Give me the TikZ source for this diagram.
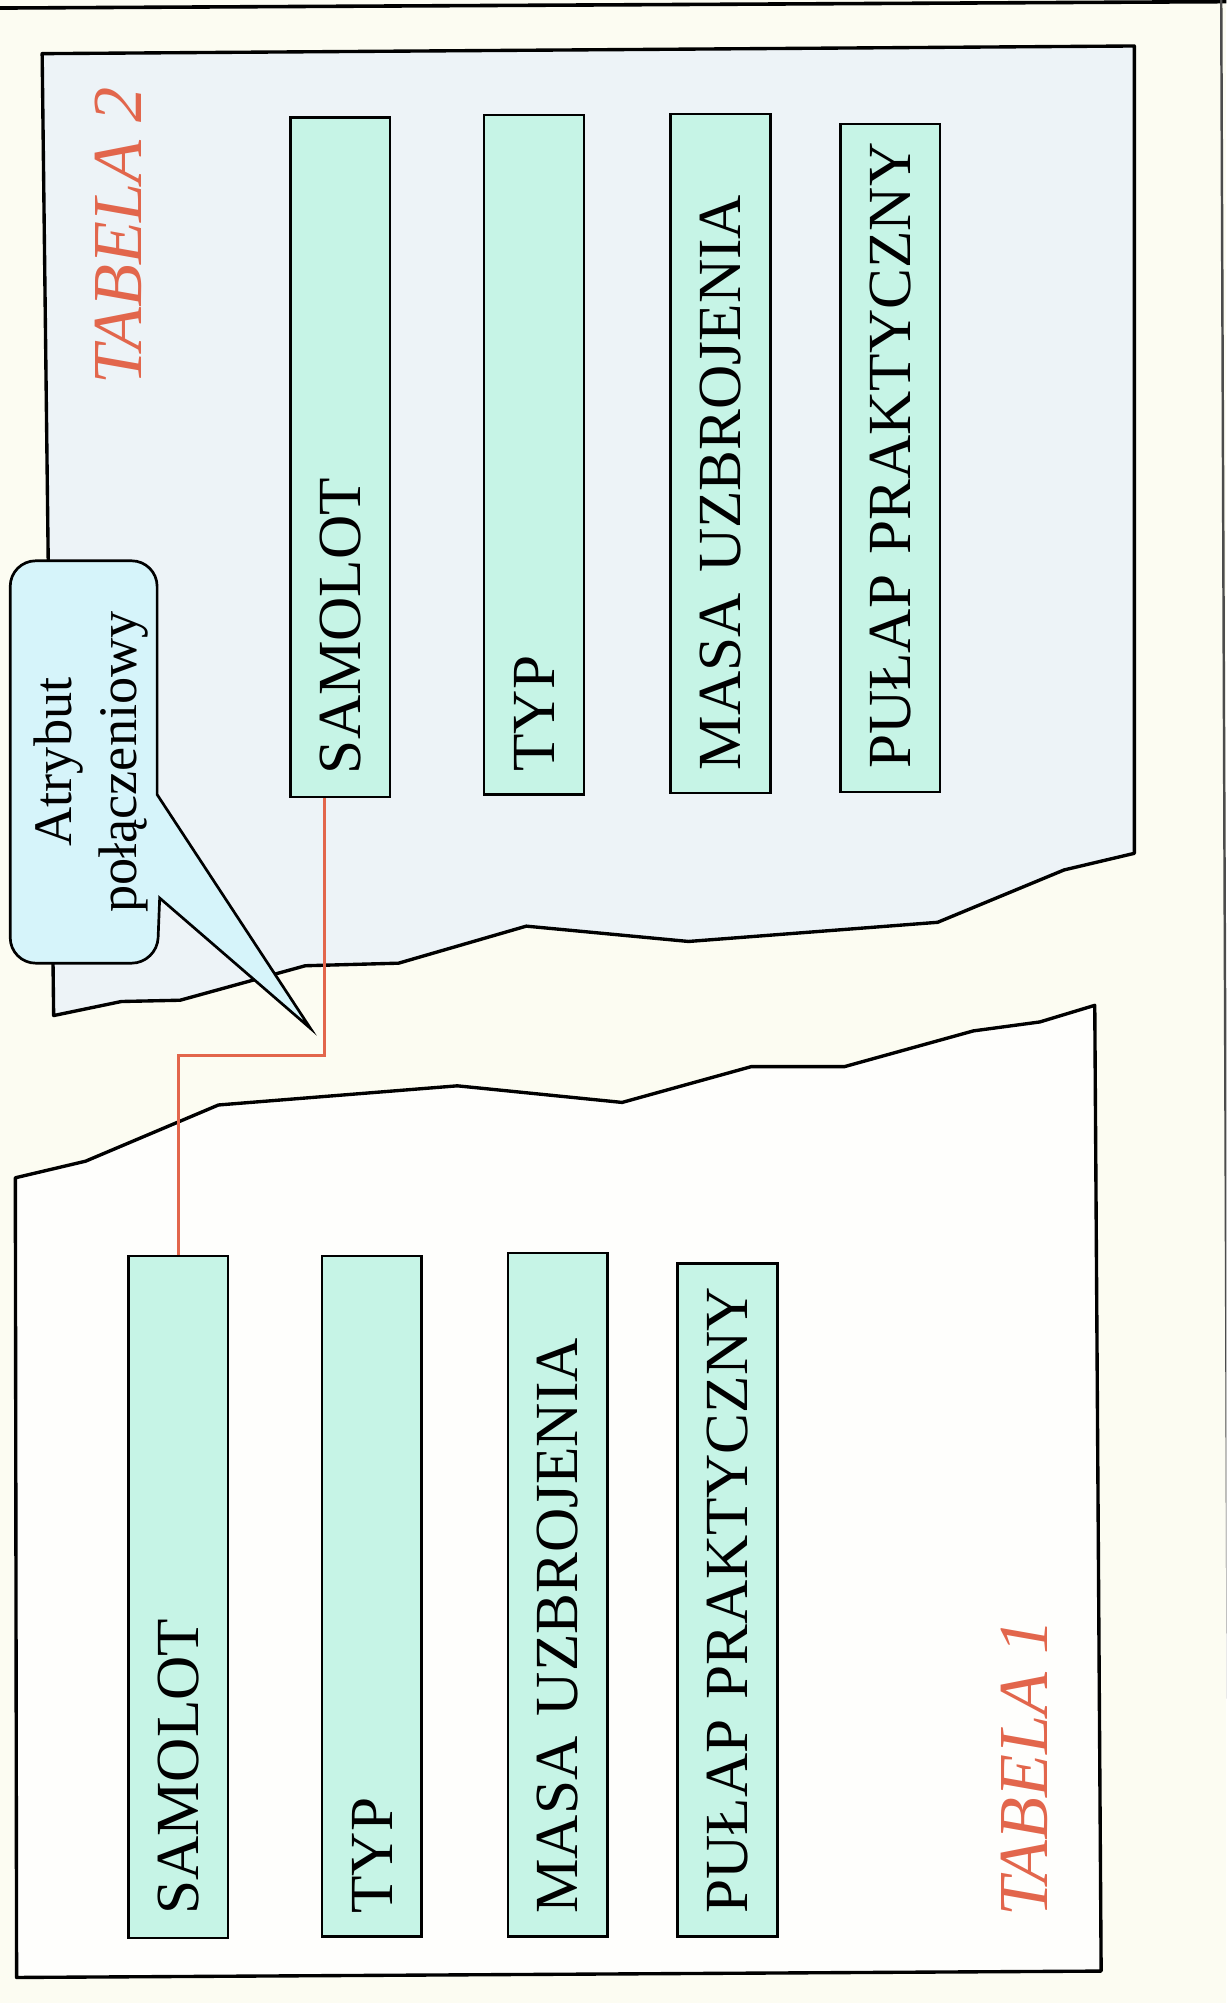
\documentclass[tikz,border=0pt]{standalone}
\usepackage{fontspec}
\setmainfont{Liberation Serif}
\usetikzlibrary{calc}

\definecolor{paper}{RGB}{252,252,242}
\definecolor{sheettwo}{RGB}{237,243,247}
\definecolor{sheetone}{RGB}{254,254,252}
\definecolor{mint}{RGB}{198,244,230}
\definecolor{balloon}{RGB}{214,244,250}
\definecolor{salmon}{RGB}{226,102,76}

\begin{document}
\begin{tikzpicture}[x=0.02cm, y=-0.02cm,
  sheet/.style={draw=black, line width=1.5pt, line join=round},
  fieldbox/.style={draw=black, line width=1.1pt, fill=mint, rotate=90,
    minimum height=1.56cm, inner xsep=0.36cm, text width=#1,
    text height=18.1pt, text depth=0pt, align=left,
    font=\fontsize{27.3}{32}\selectfont},
  tablename/.style={rotate=90, anchor=base west, inner sep=0pt, text=salmon,
    font=\fontsize{31.3}{36}\selectfont\itshape},
  link/.style={draw=salmon, line width=1.3pt},
  callout/.style={draw=black, line width=1.2pt, fill=balloon, line join=miter}]

\useasboundingbox (0,0) rectangle (960,1568);
\fill[paper] (0,0) rectangle (960,1568);

% page edge of the scanned sheet
\begin{scope}
  \clip (0,0) rectangle (960,1568);
  \draw[line width=1.6pt] (0,6.3) -- (960,1.3);
  \draw[line width=1.1pt, black!70] (956,0) -- (962,1568);
\end{scope}

% torn sheets
\draw[sheet, fill=sheettwo] (33,42) -- (888,36) -- (888,668) -- (833,681)
  -- (734,722) -- (539,737) -- (412,725) -- (312,754) -- (239,756)
  -- (141,783) -- (95,784) -- (42,795) -- cycle;
\draw[sheet, fill=sheetone] (12,922) -- (67,909) -- (171,865) -- (358,850)
  -- (487,863) -- (588,835) -- (661,835) -- (762,807) -- (814,800)
  -- (857,787) -- (862,1543) -- (13,1548) -- cycle;

% fields of table 2
\node[fieldbox=9.92cm] (t2sam) at (266.5,358) {\mbox{SAMOLOT}};
\node[fieldbox=9.92cm] (t2typ) at (418,356) {\mbox{TYP}};
\node[fieldbox=9.92cm] (t2masa) at (564,355) {\mbox{MASA UZBROJENIA}};
\node[fieldbox=9.74cm] (t2pulap) at (697,358.5) {\mbox{PUŁAP PRAKTYCZNY}};

% fields of table 1
\node[fieldbox=9.96cm] (t1sam) at (139.5,1250) {\mbox{SAMOLOT}};
\node[fieldbox=9.94cm] (t1typ) at (291,1249.5) {\mbox{TYP}};
\node[fieldbox=9.98cm] (t1masa) at (436.5,1248.5) {\mbox{MASA UZBROJENIA}};
\node[fieldbox=9.82cm] (t1pulap) at (569.5,1252.5) {\mbox{PUŁAP PRAKTYCZNY}};

% table names
\node[tablename] (name2) at (111,301.5) {TABELA 2};
\node[tablename] (name1) at (820,1501) {TABELA 1};

% join between the two SAMOLOT fields
\coordinate (linkstart) at ($(t2sam.north west)!0.34!(t2sam.south west)$);
\coordinate (jog) at (200,826);
\draw[link] (linkstart) |- (jog) -| (t1sam.east);

% speech balloon
\coordinate (tip) at (243,805);
\draw[callout] (123,622) -- (tip) -- (125,703)
  [rounded corners=0.4cm] -- (123,754) -- (8,754) -- (8,439) -- (123,439)
  [sharp corners] -- cycle;
\node[rotate=90, align=center, inner sep=0pt,
  font=\fontsize{24.2}{29}\selectfont] (attr) at (71.5,596.5)
  {Atrybut\\połączeniowy};

\end{tikzpicture}
\end{document}
